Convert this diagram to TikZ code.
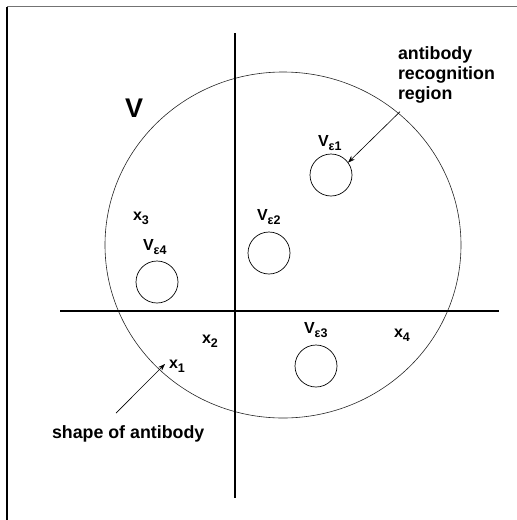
\documentclass[tikz,border=0pt]{standalone}
\usepackage{fontspec}
\setmainfont{Liberation Sans}
\usetikzlibrary{arrows.meta, positioning, shapes.geometric}
\newcommand{\lowsub}[1]{\raisebox{-4.5pt}{\fontsize{12.5}{12.5}\selectfont #1}}

\begin{document}
\begin{tikzpicture}[
    x=1pt, y=-1pt,
    every node/.style={inner sep=0pt, outer sep=0pt, font=\fontsize{16}{19}\selectfont\bfseries},
    region/.style={draw, circle, minimum size=42pt, line width=0.7pt},
    lab/.style={anchor=base west},
    note/.style={font=\fontsize{17.8}{20}\selectfont\bfseries, align=left},
    axis/.style={line width=1.1pt},
    pointer/.style={line width=0.6pt, -{Stealth[length=7pt, width=5pt]}}
]
\useasboundingbox (0,0) rectangle (517,520);
\draw[line width=1.4pt] (7,520) -- (7,6.5);
\draw[line width=1.4pt, black!55] (7,6.5) -- (517,6.5);

% space V with the two axes
\node[draw, ellipse, minimum width=356pt, minimum height=346pt, line width=0.6pt, black!85] (space) at (283,245) {};
\draw[axis] (235,33) -- (235,498);
\draw[axis] (60,311) -- (499,311);

\node[region] (e1) at (331,175) {};
\node[region] (e2) at (269,253) {};
\node[region] (e3) at (316,366) {};
\node[region] (e4) at (157,282) {};

\node[lab, font=\fontsize{27}{27}\selectfont\bfseries] (vlab) at (125,117) {V};
\node[lab] (l1) at (318,146) {V\lowsub{ε1}};
\node[lab] (l2) at (257,220) {V\lowsub{ε2}};
\node[lab] (l3) at (304,333) {V\lowsub{ε3}};
\node[lab] (l4) at (143,250) {V\lowsub{ε4}};

\node[lab] (x1) at (169,368) {x\lowsub{1}};
\node[lab] (x2) at (202,343) {x\lowsub{2}};
\node[lab] (x3) at (133,220) {x\lowsub{3}};
\node[lab] (x4) at (394,337) {x\lowsub{4}};

\node[note, anchor=north west] (recog) at (398,47) {antibody\\recognition\\region};
\node[note, lab] (shape) at (52,438) {shape of antibody};

\draw[pointer] ([shift={(2,8)}]recog.south west) -- (e1.36);
\draw[pointer] ([shift={(64,-12)}]shape.north west) -- ([shift={(-4,-4)}]x1.base west);
\end{tikzpicture}
\end{document}
